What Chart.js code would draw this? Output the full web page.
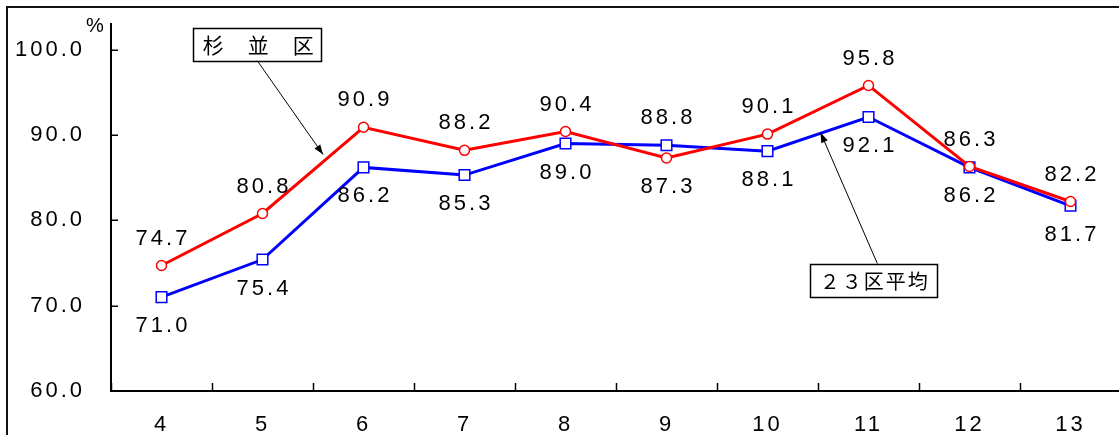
<!DOCTYPE html>
<html><head><meta charset="utf-8">
<script src="https://cdn.jsdelivr.net/npm/chart.js@4/dist/chart.umd.min.js"></script>
<style>
html,body{margin:0;padding:0;background:#fff;overflow:hidden;width:1119px;height:435px;}
#frame{position:absolute;left:6px;top:6px;width:1200px;height:500px;border-left:2px solid #111;border-top:2px solid #111;}
canvas{position:absolute;left:0;top:0;}
</style></head><body>
<div id="frame"></div>
<canvas id="c" width="1130" height="435"></canvas>
<script>
const categories = ['4','5','6','7','8','9','10','11','12','13'];
const suginamiValues = [74.7, 80.8, 90.9, 88.2, 90.4, 87.3, 90.1, 95.8, 86.3, 82.2];
const avg23Values = [71.0, 75.4, 86.2, 85.3, 89.0, 88.8, 88.1, 92.1, 86.2, 81.7];
const yTickValues = [60, 70, 80, 90, 100];
const seriesNames = ['杉並区', '２３区平均'];
const unitLabel = '%';

const FONT = '"Liberation Sans", Arial, sans-serif';
const CJK = '"Noto Sans CJK JP", sans-serif';
const SP = '3px';
const FS = 22;

const spacingPlugin = {
  id: 'spacing',
  beforeUpdate(c) { c.ctx.letterSpacing = SP; },
  beforeLayout(c) { c.ctx.letterSpacing = SP; },
  beforeDraw(c) { c.ctx.letterSpacing = SP; }
};

function arrow(ctx, x1, y1, x2, y2) {
  ctx.beginPath(); ctx.moveTo(x1, y1); ctx.lineTo(x2, y2); ctx.stroke();
  const a = Math.atan2(y2 - y1, x2 - x1), L = 10, W = 3.5;
  ctx.beginPath();
  ctx.moveTo(x2, y2);
  ctx.lineTo(x2 - L * Math.cos(a) + W * Math.sin(a), y2 - L * Math.sin(a) - W * Math.cos(a));
  ctx.lineTo(x2 - L * Math.cos(a) - W * Math.sin(a), y2 - L * Math.sin(a) + W * Math.cos(a));
  ctx.closePath(); ctx.fill();
}

const decorPlugin = {
  id: 'decor',
  afterDraw(chart) {
    const ctx = chart.ctx, xs = chart.scales.x, ys = chart.scales.y;
    const left = chart.chartArea.left, bottom = chart.chartArea.bottom;
    ctx.save();
    ctx.strokeStyle = '#000'; ctx.lineWidth = 1.5;
    ys.ticks.forEach((t, i) => {
      const py = Math.round(ys.getPixelForTick(i)) + 0.25;
      ctx.beginPath(); ctx.moveTo(left, py); ctx.lineTo(left + 7, py); ctx.stroke();
    });
    for (let i = 0; i < categories.length; i++) {
      const px = Math.round(xs.getPixelForValue(i - 0.5)) + 0.5;
      ctx.beginPath(); ctx.moveTo(px, bottom); ctx.lineTo(px, bottom - 8); ctx.stroke();
    }
    ctx.letterSpacing = SP;
    ctx.font = FS + 'px ' + FONT;
    ctx.fillStyle = '#000'; ctx.textAlign = 'center'; ctx.textBaseline = 'middle';
    const sets = chart.data.datasets;
    sets.forEach((ds, di) => {
      const other = sets[1 - di].data;
      ds.data.forEach((v, i) => {
        const above = v > other[i];
        const px = xs.getPixelForValue(i);
        const py = ys.getPixelForValue(v) + (above ? -27 : 29);
        ctx.fillText(v.toFixed(1), px + 1.5, py);
      });
    });
    ctx.letterSpacing = '0px';
    ctx.font = '20px ' + FONT;
    ctx.fillText(unitLabel, 95, 26);
    ctx.lineWidth = 1.5;
    ctx.font = '21px ' + CJK;
    const b1x = xs.getPixelForValue(0.948), b1y = ys.getPixelForValue(100.64);
    ctx.strokeRect(Math.round(b1x - 64) + 0.5, Math.round(b1y - 16.5) + 0.5, 128, 33);
    Array.from(seriesNames[0]).forEach((ch, k) => ctx.fillText(ch, b1x - 44 + k * 45, b1y + 1));
    ctx.font = '20px ' + CJK;
    const b2x = xs.getPixelForValue(7.053), b2y = ys.getPixelForValue(73.0);
    ctx.strokeRect(Math.round(b2x - 63.5) + 0.5, Math.round(b2y - 16.5) + 0.5, 127, 33);
    Array.from(seriesNames[1]).forEach((ch, k) => ctx.fillText(ch, b2x - 44 + k * 22, b2y + 1));
    ctx.lineWidth = 1; ctx.fillStyle = '#000';
    arrow(ctx, b1x, b1y + 16.5, xs.getPixelForValue(1.6), ys.getPixelForValue(87.7));
    arrow(ctx, b2x + 3.5, b2y - 16.5, xs.getPixelForValue(6.525), ys.getPixelForValue(90.28));
    ctx.restore();
  }
};

const tickFont = { family: FONT, size: FS };

new Chart(document.getElementById('c').getContext('2d'), {
  type: 'line',
  data: {
    labels: categories,
    datasets: [
      { label: seriesNames[0], data: suginamiValues, borderColor: '#ff0000', borderWidth: 3,
        pointStyle: 'circle', pointRadius: 5, pointBorderWidth: 1.5,
        pointBackgroundColor: '#ffffff', pointBorderColor: '#ff0000', tension: 0 },
      { label: seriesNames[1], data: avg23Values, borderColor: '#0000ff', borderWidth: 3,
        pointStyle: 'rect', pointRadius: 7.5, pointBorderWidth: 1.5,
        pointBackgroundColor: '#ffffff', pointBorderColor: '#0000ff', tension: 0 }
    ]
  },
  options: {
    responsive: false, animation: false, devicePixelRatio: 1,
    layout: { padding: { top: 24, right: 6, left: 0, bottom: 0 } },
    plugins: { legend: { display: false }, tooltip: { enabled: false } },
    scales: {
      x: {
        offset: true,
        grid: { display: true, drawOnChartArea: false, drawTicks: false, offset: true },
        border: { display: true, color: '#000', width: 2 },
        ticks: { color: '#000', font: tickFont, padding: 21, maxRotation: 0, autoSkip: false },
        afterFit(s) { s.height = 44; s.paddingLeft = 0; s.paddingRight = 0; }
      },
      y: {
        min: 60, max: 103,
        afterBuildTicks(s) { s.ticks = yTickValues.map(v => ({ value: v })); },
        grid: { display: true, drawOnChartArea: false, drawTicks: false },
        border: { display: true, color: '#000', width: 2 },
        ticks: { color: '#000', font: tickFont, padding: 26, callback: v => Number(v).toFixed(1) },
        afterFit(s) { s.width = 111; s.paddingTop = 0; s.paddingBottom = 0; }
      }
    }
  },
  plugins: [spacingPlugin, decorPlugin]
});
</script>
</body></html>
